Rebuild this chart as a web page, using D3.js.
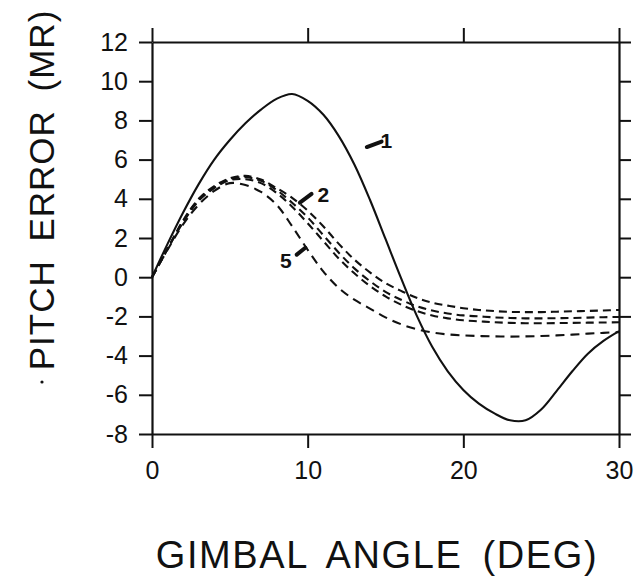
<!DOCTYPE html>
<html>
<head>
<meta charset="utf-8">
<script src="https://cdn.jsdelivr.net/npm/d3@7/dist/d3.min.js"></script>
<style>
  html, body { margin: 0; padding: 0; background: #fff; }
  svg { display: block; }
  text { font-family: "Liberation Sans", Arial, sans-serif; fill: #111; }
</style>
</head>
<body>
<svg id="chart" width="638" height="580"></svg>
<script>
// Gimbal angle samples (deg)
const gimbalAngle = d3.range(0, 31);

// Pitch error (MR) for each case
const case1 = [0, 1.7, 3.3, 4.75, 6.0, 7.0, 7.85, 8.55, 9.1, 9.35, 9.0,
  8.3, 7.2, 5.75, 3.95, 1.95, -0.05, -1.95, -3.55, -4.8, -5.75,
  -6.45, -6.95, -7.3, -7.3, -6.75, -5.8, -4.8, -3.9, -3.25, -2.75];
const case2 = [0, 1.45, 2.9, 4.0, 4.65, 5.05, 5.17, 4.98, 4.55, 4.05, 3.4,
  2.6, 1.7, 0.9, 0.25, -0.3, -0.7, -1.05, -1.3, -1.45, -1.58,
  -1.67, -1.73, -1.77, -1.78, -1.78, -1.76, -1.74, -1.72, -1.7, -1.67];
const case3 = [0, 1.45, 2.85, 3.95, 4.6, 5.0, 5.1, 4.92, 4.45, 3.8, 3.05,
  2.15, 1.25, 0.45, -0.2, -0.75, -1.15, -1.48, -1.7, -1.85, -1.95,
  -2.0, -2.05, -2.08, -2.1, -2.1, -2.09, -2.08, -2.06, -2.04, -2.03];
const case4 = [0, 1.45, 2.8, 3.9, 4.55, 4.95, 5.0, 4.8, 4.3, 3.6, 2.75,
  1.85, 0.95, 0.2, -0.45, -0.98, -1.4, -1.72, -1.95, -2.1, -2.2,
  -2.25, -2.3, -2.33, -2.35, -2.35, -2.34, -2.33, -2.32, -2.31, -2.3];
const case5 = [0, 1.4, 2.7, 3.7, 4.4, 4.8, 4.7, 4.35, 3.7, 2.6, 1.4,
  0.3, -0.55, -1.15, -1.6, -2.05, -2.4, -2.65, -2.82, -2.92, -2.97,
  -3.0, -3.02, -3.03, -3.02, -3.0, -2.97, -2.93, -2.88, -2.84, -2.8];

const yTicks = [12, 10, 8, 6, 4, 2, 0, -2, -4, -6, -8];
const xTicks = [0, 10, 20, 30];

// Curve tags: text position and leader stroke, in data units
const tagNames = ["1", "2", "5"];
const tagText = [[15.05, 7.0], [11.0, 4.2], [8.6, 0.85]];
const tagLead = [[[13.8, 6.64], [14.75, 6.92]], [[9.5, 3.8], [10.25, 4.25]], [[9.3, 1.15], [9.85, 1.5]]];

const svg = d3.select("#chart");
const x = d3.scaleLinear().domain([0, 30]).range([152, 619]);
const y = d3.scaleLinear().domain([-8, 12]).range([434, 42]);

// Frame with outward ticks on all four sides
const axisStroke = g => {
  g.select(".domain").attr("stroke", "#111").attr("stroke-width", 2.2);
  g.selectAll(".tick line").attr("stroke", "#111").attr("stroke-width", 2);
};

svg.append("g").attr("transform", `translate(${x(0)},0)`)
  .call(d3.axisLeft(y).tickValues(yTicks).tickSize(13).tickPadding(11).tickSizeOuter(0)
    .tickFormat(d => d3.format("d")(d).replace("−", "-")))
  .call(axisStroke)
  .call(g => g.selectAll(".tick text").attr("font-size", 25).attr("fill", "#111")
    .attr("font-family", "Liberation Sans, Arial, sans-serif"));

svg.append("g").attr("transform", `translate(${x(30)},0)`)
  .call(d3.axisRight(y).tickValues(yTicks).tickSize(12).tickFormat("").tickSizeOuter(0))
  .call(axisStroke);

svg.append("g").attr("transform", `translate(0,${y(12)})`)
  .call(d3.axisTop(x).tickValues(xTicks).tickSize(14).tickFormat("").tickSizeOuter(0))
  .call(axisStroke);

svg.append("g").attr("transform", `translate(0,${y(-8)})`)
  .call(d3.axisBottom(x).tickValues(xTicks).tickSize(14).tickPadding(13).tickSizeOuter(0))
  .call(axisStroke)
  .call(g => g.selectAll(".tick text").attr("font-size", 25).attr("fill", "#111")
    .attr("font-family", "Liberation Sans, Arial, sans-serif"));

// Curves
const line = d3.line()
  .x((d, i) => x(gimbalAngle[i]))
  .y(d => y(d))
  .curve(d3.curveCatmullRom.alpha(0.5));

const series = [
  { values: case1, dash: null },
  { values: case2, dash: "8,5" },
  { values: case3, dash: "8,5" },
  { values: case4, dash: "8,5" },
  { values: case5, dash: "9,6" }
];

svg.append("g").selectAll("path").data(series).join("path")
  .attr("d", d => line(d.values))
  .attr("fill", "none")
  .attr("stroke", "#111")
  .attr("stroke-width", 2.1)
  .attr("stroke-dasharray", d => d.dash);

// Curve tags
const tags = svg.append("g");
tags.selectAll("line").data(tagLead).join("line")
  .attr("x1", d => x(d[0][0])).attr("y1", d => y(d[0][1]))
  .attr("x2", d => x(d[1][0])).attr("y2", d => y(d[1][1]))
  .attr("stroke", "#111").attr("stroke-width", 4).attr("stroke-linecap", "round");
tags.selectAll("text").data(tagNames).join("text")
  .attr("x", (d, i) => x(tagText[i][0]))
  .attr("y", (d, i) => y(tagText[i][1]))
  .attr("text-anchor", "middle")
  .attr("dominant-baseline", "central")
  .attr("font-size", 21)
  .attr("font-weight", "bold")
  .text(d => d);

// Axis titles
svg.append("text")
  .attr("x", 377).attr("y", 568)
  .attr("text-anchor", "middle")
  .attr("font-size", 38)
  .attr("letter-spacing", 1.6)
  .attr("word-spacing", 8)
  .text("GIMBAL ANGLE (DEG)");

svg.append("text")
  .attr("transform", "translate(54,190) rotate(-90)")
  .attr("text-anchor", "middle")
  .attr("font-size", 35)
  .attr("letter-spacing", 1)
  .attr("word-spacing", 8)
  .text("PITCH ERROR (MR)");

svg.append("circle")
  .attr("cx", 42).attr("cy", 382).attr("r", 1.6).attr("fill", "#111");
</script>
</body>
</html>
